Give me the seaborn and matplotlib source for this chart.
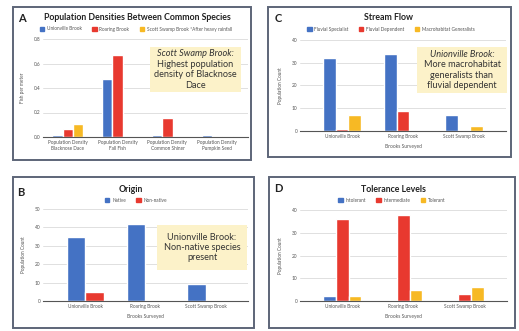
import matplotlib
matplotlib.use("Agg")
import matplotlib.pyplot as plt
from matplotlib.patches import Rectangle, Patch
import seaborn as sns
import pandas as pd

# ---- data ----
dens_cats = ["Population Density\nBlacknose Dace", "Population Density\nFall Fish",
             "Population Density\nCommon Shiner", "Population Density\nPumpkin Seed"]
dens_series = ["Unionville Brook", "Roaring Brook", "Scott Swamp Brook *After heavy rainfall"]
dens_unionville = [0.015, 0.47, 0.015, 0.015]
dens_roaring = [0.065, 0.67, 0.155, 0.0]
dens_scott = [0.105, 0.0, 0.0, 0.012]

brooks = ["Unionville Brook", "Roaring Brook", "Scott Swamp Brook"]

flow_series = ["Fluvial Specialist", "Fluvial Dependent", "Macrohabitat Generalists"]
flow_specialist = [32, 34, 7]
flow_dependent = [1, 9, 0]
flow_generalist = [7, 0, 2]

origin_series = ["Native", "Non-native"]
origin_native = [35, 42, 9]
origin_nonnative = [5, 0, 0]

tol_series = ["Intolerant", "Intermediate", "Tolerant"]
tol_intolerant = [2, 0, 0]
tol_intermediate = [36, 38, 3]
tol_tolerant = [2, 5, 6]

BLUE, RED, YELLOW = "#4472c4", "#e8392f", "#f7b924"
W, H = 519, 331


def px(x, y):
    return x / W, 1 - y / H


def long_df(cats, names, values):
    rows = []
    for name, vals in zip(names, values):
        for c, v in zip(cats, vals):
            rows.append({"cat": c, "series": name, "value": v})
    return pd.DataFrame(rows)


def panel(fig, frame, axbox, letter, title, cats, names, values, colors,
          yticks, yfmt, ylabel, xlabel, legend_xy, title_xy, letter_xy,
          xlim, note=None):
    # frame around panel
    fx0, fy0, fx1, fy1 = frame
    fig.patches.append(Rectangle(px(fx0, fy1), (fx1 - fx0) / W, (fy1 - fy0) / H,
                                 transform=fig.transFigure, fill=False,
                                 edgecolor="#5d6578", linewidth=1.4))
    x0, y0, x1, y1 = axbox
    ax = fig.add_axes([x0 / W, 1 - y1 / H, (x1 - x0) / W, (y1 - y0) / H])
    df = long_df(cats, names, values)
    sns.barplot(data=df, x="cat", y="value", hue="series", palette=colors,
                width=0.62, gap=0, legend=False, ax=ax, saturation=1)
    ax.set_xlim(*xlim)
    ax.set_ylim(yticks[0], yticks[-1])
    ax.set_yticks(yticks)
    ax.set_yticklabels([yfmt.format(t) for t in yticks])
    ax.grid(axis="y", color="#dadada", linewidth=0.6)
    ax.set_axisbelow(True)
    for s in ["top", "right", "left"]:
        ax.spines[s].set_visible(False)
    ax.spines["bottom"].set_color("#555555")
    ax.spines["bottom"].set_linewidth(0.8)
    ax.tick_params(length=0, labelsize=3.4, colors="#555555", pad=2)
    ax.set_xlabel("")
    ax.set_ylabel("")
    if xlabel:
        ax.set_xlabel(xlabel, fontsize=3.5, color="#555555", labelpad=4)
    ax.set_ylabel(ylabel, fontsize=3.4, color="#555555", labelpad=6)

    fig.text(*px(*letter_xy), letter, fontsize=8, fontweight="bold",
             ha="center", va="center", color="#222222")
    fig.text(*px(*title_xy), title, fontsize=6.3, fontweight="bold",
             ha="center", va="center", color="#222222")
    handles = [Patch(color=c, label=n) for n, c in zip(names, colors)]
    fig.legend(handles=handles, loc="center", bbox_to_anchor=px(*legend_xy),
               ncol=len(names), frameon=False, fontsize=3.4,
               handlelength=0.9, handleheight=0.9, columnspacing=2.2,
               handletextpad=0.6, labelcolor="#555555")
    if note:
        (bx0, by0, bx1, by1), lines = note
        fig.patches.append(Rectangle(px(bx0, by1), (bx1 - bx0) / W, (by1 - by0) / H,
                                     transform=fig.transFigure,
                                     facecolor="#fcf2c9", edgecolor="none"))
        n = len(lines)
        step = 10.5
        cy = (by0 + by1) / 2
        for i, (txt, style) in enumerate(lines):
            ty = cy + (i - (n - 1) / 2) * step
            fig.text(*px((bx0 + bx1) / 2, ty), txt, fontsize=6.6,
                     style=style, ha="center", va="center", color="#333333")
    return ax


sns.set_theme(style="white")
plt.rcParams["font.family"] = ["Lato", "DejaVu Sans"]

fig = plt.figure(figsize=(W / 100, H / 100), dpi=100)
fig.patch.set_facecolor("white")

panel(fig, (13, 7, 251, 160), (43, 39, 248, 137), "A",
      "Population Densities Between Common Species",
      dens_cats, dens_series, [dens_unionville, dens_roaring, dens_scott],
      [BLUE, RED, YELLOW], [0.0, 0.2, 0.4, 0.6, 0.8], "{:.1f}",
      "Fish per meter", None, (136, 29), (137, 17), (22, 19),
      (-0.5, 3.62),
      note=((150, 47, 241, 92), [("Scott Swamp Brook:", "italic"),
                                 ("Highest population", "normal"),
                                 ("density of Blacknose", "normal"),
                                 ("Dace", "normal")]))

panel(fig, (268, 7, 511, 157), (300, 40, 506, 131), "C", "Stream Flow",
      brooks, flow_series, [flow_specialist, flow_dependent, flow_generalist],
      [BLUE, RED, YELLOW], [0, 10, 20, 30, 40], "{:d}",
      "Population Count", "Brooks Surveyed", (391, 29.5), (389, 18), (278, 18),
      (-0.69, 2.69),
      note=((417, 47, 507, 93), [("Unionville Brook:", "italic"),
                                 ("More macrohabitat", "normal"),
                                 ("generalists than", "normal"),
                                 ("fluvial dependent", "normal")]))

panel(fig, (13, 177, 254, 328), (43, 209, 248, 301), "B", "Origin",
      brooks, origin_series, [origin_native, origin_nonnative],
      [BLUE, RED], [0, 10, 20, 30, 40, 50], "{:d}",
      "Population Count", "Brooks Surveyed", (136, 200), (131, 189), (21, 192),
      (-0.7, 2.7),
      note=((157, 225, 247, 270), [("Unionville Brook:", "normal"),
                                   ("Non-native species", "normal"),
                                   ("present", "normal")]))

panel(fig, (269, 177, 515, 328), (300, 210, 507, 301), "D", "Tolerance Levels",
      brooks, tol_series, [tol_intolerant, tol_intermediate, tol_tolerant],
      [BLUE, RED, YELLOW], [0, 10, 20, 30, 40], "{:d}",
      "Population Count", "Brooks Surveyed", (392, 200), (393, 189), (278, 188),
      (-0.69, 2.69))

fig.savefig("out.png", dpi=100)
